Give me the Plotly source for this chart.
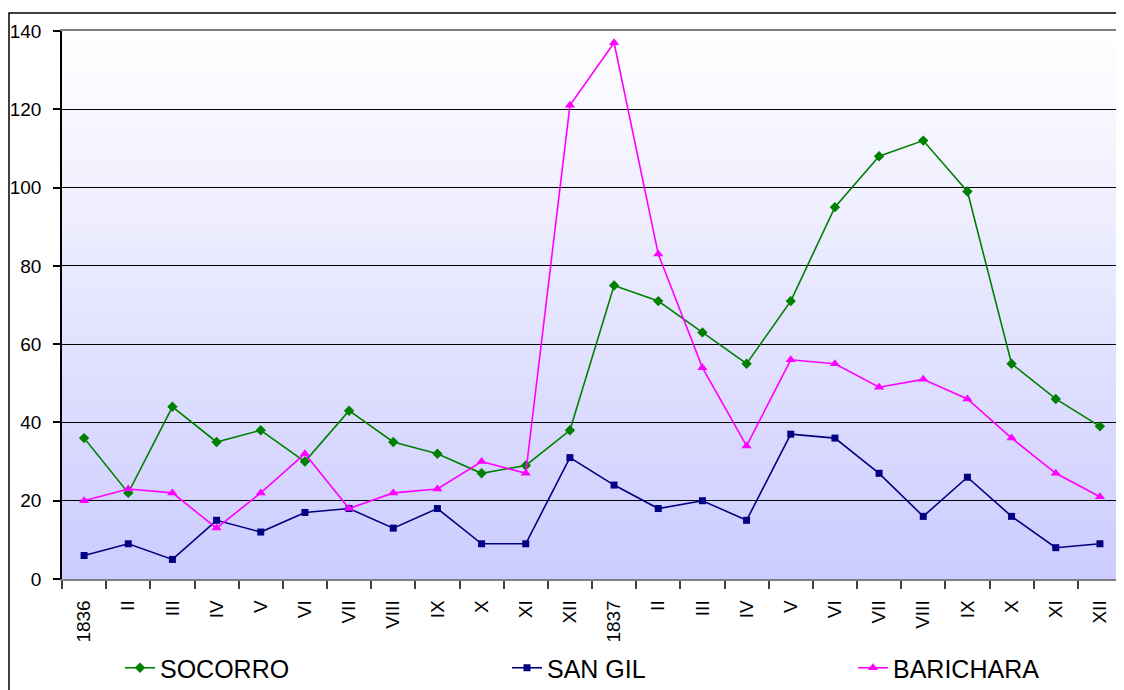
import plotly.graph_objects as go

months = ["1836", "II", "III", "IV", "V", "VI", "VII", "VIII", "IX", "X", "XI", "XII",
          "1837", "II", "III", "IV", "V", "VI", "VII", "VIII", "IX", "X", "XI", "XII"]
socorro = [36, 22, 44, 35, 38, 30, 43, 35, 32, 27, 29, 38,
           75, 71, 63, 55, 71, 95, 108, 112, 99, 55, 46, 39]
san_gil = [6, 9, 5, 15, 12, 17, 18, 13, 18, 9, 9, 31,
           24, 18, 20, 15, 37, 36, 27, 16, 26, 16, 8, 9]
barichara = [20, 23, 22, 13, 22, 32, 18, 22, 23, 30, 27, 121,
             137, 83, 54, 34, 56, 55, 49, 51, 46, 36, 27, 21]

# page has an 8px body margin: work in screen coords and convert
OFF = 8
W, H = 1124 - OFF, 690 - OFF
L, R, T, B = 62 - OFF, 1122 - OFF, 31 - OFF, 579 - OFF
pw, ph = R - L, B - T


def px(x):
    return (x - OFF - L) / pw


def py(y):
    return (B - (y - OFF)) / ph


xs = list(range(len(months)))
FONT = "Liberation Sans, Arial, sans-serif"

fig = go.Figure()
fig.add_trace(go.Scatter(x=xs, y=socorro, name="SOCORRO", mode="lines+markers",
                         line=dict(color="#008000", width=1.6),
                         marker=dict(symbol="diamond", size=8, color="#008000"),
                         legend="legend"))
fig.add_trace(go.Scatter(x=xs, y=san_gil, name="SAN GIL", mode="lines+markers",
                         line=dict(color="#000080", width=1.6),
                         marker=dict(symbol="square", size=7, color="#000080"),
                         legend="legend2"))
fig.add_trace(go.Scatter(x=xs, y=barichara, name="BARICHARA", mode="lines+markers",
                         line=dict(color="#FF00FF", width=1.6),
                         marker=dict(symbol="triangle-up", size=9, color="#FF00FF"),
                         legend="legend3"))

shapes = []
# gradient background (white top -> lavender bottom)
N = 110
top = (255, 255, 255)
bot = (204, 204, 255)
for i in range(N):
    f = (i + 0.5) / N
    c = tuple(round(top[k] + (bot[k] - top[k]) * f) for k in range(3))
    shapes.append(dict(type="rect", xref="paper", yref="paper", layer="below",
                       x0=0, x1=1, y0=1 - (i + 1) / N, y1=1 - i / N + 0.002,
                       fillcolor="rgb(%d,%d,%d)" % c, line=dict(width=0)))
# right border of plot area
shapes.append(dict(type="line", xref="paper", yref="paper", x0=1, x1=1, y0=0, y1=1,
                   line=dict(color="#808080", width=1.5)))
# outer chart border
shapes.append(dict(type="rect", xref="paper", yref="paper",
                   x0=px(9), x1=px(1135), y0=py(700), y1=py(13),
                   line=dict(color="black", width=1.5), fillcolor="rgba(0,0,0,0)"))

legend_common = dict(orientation="h", yanchor="middle", xanchor="left",
                     font=dict(family=FONT, size=25, color="black"),
                     bgcolor="rgba(0,0,0,0)", borderwidth=0, itemwidth=30)
fig.update_layout(
    width=W, height=H,
    margin=dict(l=L, r=W - R, t=T, b=H - B, autoexpand=False),
    paper_bgcolor="white", plot_bgcolor="white",
    font=dict(family=FONT, size=19, color="black"),
    showlegend=True,
    legend=dict(x=px(120), y=py(668), **legend_common),
    legend2=dict(x=px(507), y=py(668), **legend_common),
    legend3=dict(x=px(853), y=py(668), **legend_common),
    shapes=shapes,
    xaxis=dict(range=[-0.5, len(months) - 0.5], tickmode="array", tickvals=xs,
               ticktext=months, tickangle=-90, ticks="", showgrid=False, zeroline=False,
               showline=True, linecolor="#808080", linewidth=1.5, mirror=True,
               tickfont=dict(family=FONT, size=19, color="black"),
               ticklabelstandoff=12,
               minor=dict(tickmode="array", tickvals=[i - 0.5 for i in range(len(months) + 1)],
                          ticks="outside", ticklen=8, tickcolor="#404040", tickwidth=1.5,
                          showgrid=False)),
    yaxis=dict(range=[0, 140], dtick=20, tick0=0, showgrid=True, gridcolor="black",
               gridwidth=1, zeroline=False, showline=True, linecolor="black", linewidth=1.5,
               ticks="outside", ticklen=7, tickcolor="black", tickwidth=1.5,
               ticklabelstandoff=8,
               tickfont=dict(family=FONT, size=19, color="black")),
)

fig.write_html("out.html")
